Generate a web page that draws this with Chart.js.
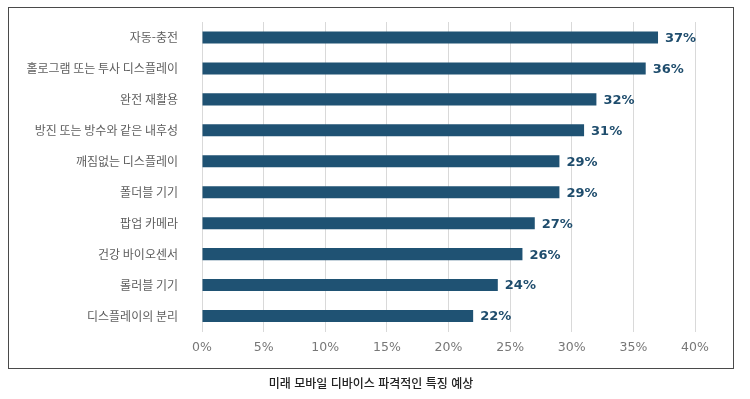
<!DOCTYPE html>
<html lang="ko">
<head>
<meta charset="utf-8">
<title>미래 모바일 디바이스 파격적인 특징 예상</title>
<script src="https://cdn.jsdelivr.net/npm/chart.js@4/dist/chart.umd.min.js"></script>
<style>
    body { margin: 0; background: #fff; }
    .page { position: relative; width: 750px; height: 399px; overflow: hidden; }
    .frame {
        position: absolute; left: 8px; top: 7px; width: 726px; height: 362px;
        border: 1.5px solid #4a4a4a; box-sizing: border-box;
    }
    #chart { position: absolute; left: 0; top: 0; }
    .caption {
        position: absolute; left: 0; width: 742px; top: 374px;
        text-align: center; font-family: "Noto Sans CJK KR", sans-serif;
        font-size: 12px; font-weight: 500; color: #222;
    }
</style>
</head>
<body>
<div class="page">
    <div class="frame"></div>
    <canvas id="chart" width="750" height="399"></canvas>
    <div class="caption">미래 모바일 디바이스 파격적인 특징 예상</div>
</div>
<script>
const features = [
    '자동-충전',
    '홀로그램 또는 투사 디스플레이',
    '완전 재활용',
    '방진 또는 방수와 같은 내후성',
    '깨짐없는 디스플레이',
    '폴더블 기기',
    '팝업 카메라',
    '건강 바이오센서',
    '롤러블 기기',
    '디스플레이의 분리'
];
const shares = [37, 36, 32, 31, 29, 29, 27, 26, 24, 22];
const xTicks = [0, 5, 10, 15, 20, 25, 30, 35, 40];

const barColor = '#1f5273';
const labelColor = '#1f4d6d';

// 막대 끝에 값 표시
const valueLabels = {
    id: 'valueLabels',
    afterDatasetsDraw(chart) {
        const ctx = chart.ctx;
        const meta = chart.getDatasetMeta(0);
        ctx.save();
        ctx.font = 'bold 13px "DejaVu Sans", sans-serif';
        ctx.fillStyle = labelColor;
        ctx.textAlign = 'left';
        ctx.textBaseline = 'middle';
        meta.data.forEach((bar, i) => {
            ctx.fillText(shares[i] + '%', bar.x + 7, bar.y + 1);
        });
        ctx.restore();
    }
};

new Chart(document.getElementById('chart'), {
    type: 'bar',
    data: {
        labels: features,
        datasets: [{
            data: shares,
            backgroundColor: barColor,
            borderWidth: 0,
            barPercentage: 0.78,
            categoryPercentage: 0.5
        }]
    },
    options: {
        indexAxis: 'y',
        responsive: false,
        animation: false,
        layout: { padding: { top: 22, right: 55, left: 0, bottom: 0 } },
        plugins: { legend: { display: false }, tooltip: { enabled: false } },
        scales: {
            x: {
                min: 0,
                max: 40,
                afterBuildTicks: axis => { axis.ticks = xTicks.map(v => ({ value: v })); },
                afterFit: axis => { axis.height = 67.5; },
                grid: { color: '#d9d9d9', drawTicks: false },
                border: { display: false },
                ticks: {
                    padding: 9,
                    color: '#777',
                    font: { family: '"DejaVu Sans", sans-serif', size: 12.5 },
                    callback: value => value + '%'
                }
            },
            y: {
                afterFit: axis => { axis.width = 202; },
                // 눈금선은 숨기고 tickLength로 라벨 간격만 확보
                grid: { display: false, drawTicks: true, tickLength: 22 },
                border: { display: false },
                ticks: {
                    padding: 2,
                    color: '#5e5e5e',
                    font: { family: '"Noto Sans CJK KR", sans-serif', size: 12 }
                }
            }
        }
    },
    plugins: [valueLabels]
});
</script>
</body>
</html>
